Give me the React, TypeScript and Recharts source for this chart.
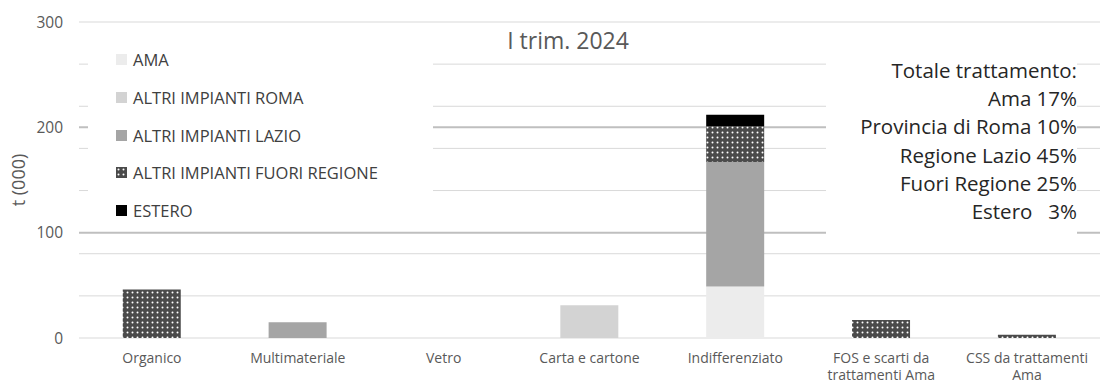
import React from 'react';
import { BarChart, Bar, XAxis, YAxis, CartesianGrid, Legend, Text } from 'recharts';

const categories = [
  'Organico',
  'Multimateriale',
  'Vetro',
  'Carta e cartone',
  'Indifferenziato',
  'FOS e scarti da trattamenti Ama',
  'CSS da trattamenti Ama',
];
const ama = [0, 0, 0, 0, 49, 0, 0];
const altriRoma = [0, 0, 0, 31, 0, 0, 0];
const altriLazio = [0, 15, 0, 0, 118, 0, 0];
const fuoriRegione = [46, 0, 0, 0, 34, 17, 3];
const estero = [0, 0, 0, 0, 11, 0, 0];

const seriesNames = ['AMA', 'ALTRI IMPIANTI ROMA', 'ALTRI IMPIANTI LAZIO', 'ALTRI IMPIANTI FUORI REGIONE', 'ESTERO'];

const yTicks = [0, 100, 200, 300];
const minorLines = [0, 20, 40, 60, 80, 120, 140, 160, 180, 220, 240, 260, 280, 300];
const majorLines = [100, 200];

const totals = [
  'Totale trattamento:',
  'Ama 17%',
  'Provincia di Roma 10%',
  'Regione Lazio 45%',
  'Fuori Regione 25%',
  'Estero   3%',
];

const data = categories.map((name, i) => ({
  name,
  ama: ama[i],
  altriRoma: altriRoma[i],
  altriLazio: altriLazio[i],
  fuoriRegione: fuoriRegione[i],
  estero: estero[i],
}));

const FONT = '"Open Sans", Lato, sans-serif';

const CategoryTick = (props: any) => {
  const { x, y, payload } = props;
  return (
    <Text
      x={x}
      y={y}
      dy={7}
      width={135}
      textAnchor="middle"
      verticalAnchor="start"
      lineHeight={17}
      fill="#595959"
      fontSize={14}
      fontFamily={FONT}
    >
      {payload.value}
    </Text>
  );
};

const LegendBox = ({ payload }: any) => {
  const items = [...(payload || [])].sort(
    (a: any, b: any) => seriesNames.indexOf(a.value) - seriesNames.indexOf(b.value)
  );
  return (
    <div style={{ background: '#fff' }}>
      {items.map((p: any) => (
        <div
          key={p.value}
          style={{ height: 37.7, display: 'flex', alignItems: 'center', paddingLeft: 28 }}
        >
          <svg width={11} height={11} style={{ marginRight: 6 }}>
            <rect width={11} height={11} fill={p.color} />
          </svg>
          <span style={{ fontSize: 16.5, color: '#404040', fontFamily: FONT }}>{p.value}</span>
        </div>
      ))}
    </div>
  );
};

export default function App() {
  return (
    <div style={{ position: 'absolute', left: 0, top: 0, width: 1102, height: 387, background: '#fff', fontFamily: FONT }}>
      <BarChart
        width={1102}
        height={387}
        data={data}
        margin={{ top: 22, right: 2, left: 0, bottom: 0 }}
        barCategoryGap="30%"
      >
        <defs>
          <pattern id="dots" width={5} height={5} patternUnits="userSpaceOnUse">
            <rect width={5} height={5} fill="#4a4a4a" />
            <circle cx={2.5} cy={2.5} r={1} fill="#ffffff" />
          </pattern>
        </defs>
        <CartesianGrid horizontal vertical={false} horizontalValues={minorLines} stroke="#d9d9d9" />
        <CartesianGrid horizontal vertical={false} horizontalValues={majorLines} stroke="#bfbfbf" strokeWidth={2} />
        <XAxis
          dataKey="name"
          height={49}
          axisLine={false}
          tickLine={false}
          interval={0}
          tick={<CategoryTick />}
        />
        <YAxis
          width={79}
          domain={[0, 300]}
          ticks={yTicks}
          axisLine={false}
          tickLine={false}
          tickMargin={10}
          tick={{ fill: '#595959', fontSize: 15.5 }}
          label={{
            value: 't (000)',
            angle: -90,
            position: 'insideLeft',
            offset: 19,
            style: { textAnchor: 'middle', fill: '#595959', fontSize: 18 },
          }}
        />
        <Legend
          layout="vertical"
          align="center"
          verticalAlign="middle"
          content={<LegendBox />}
          wrapperStyle={{ left: 88, top: 41, width: 345 }}
        />
        <Bar dataKey="ama" name={seriesNames[0]} stackId="a" fill="#ececec" isAnimationActive={false} />
        <Bar dataKey="altriRoma" name={seriesNames[1]} stackId="a" fill="#d3d3d3" isAnimationActive={false} />
        <Bar dataKey="altriLazio" name={seriesNames[2]} stackId="a" fill="#a5a5a5" isAnimationActive={false} />
        <Bar dataKey="fuoriRegione" name={seriesNames[3]} stackId="a" fill="url(#dots)" isAnimationActive={false} />
        <Bar dataKey="estero" name={seriesNames[4]} stackId="a" fill="#000000" isAnimationActive={false} />
      </BarChart>
      <div
        style={{
          position: 'absolute',
          left: 0,
          width: 1136,
          top: 24,
          textAlign: 'center',
          fontSize: 23,
          color: '#595959',
          pointerEvents: 'none',
        }}
      >
        I trim. 2024
      </div>
      <div
        style={{
          position: 'absolute',
          left: 826,
          top: 56,
          width: 251,
          height: 182,
          background: '#fff',
          textAlign: 'right',
          color: '#262626',
          fontSize: 20.5,
        }}
      >
        {totals.map((t) => (
          <div key={t} style={{ height: 28.2, lineHeight: '28.2px', whiteSpace: 'pre' }}>
            {t}
          </div>
        ))}
      </div>
    </div>
  );
}
